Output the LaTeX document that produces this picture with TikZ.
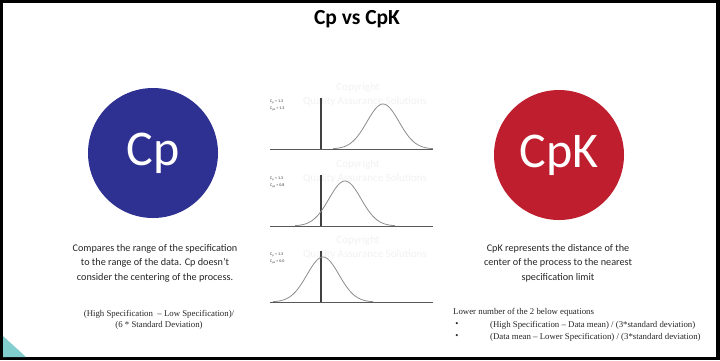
\documentclass[tikz,border=0pt]{standalone}
\usepackage{fontspec}
\setmainfont{Carlito}
\newfontfamily\frmfont{Liberation Serif}
\usetikzlibrary{positioning}
\definecolor{cpblue}{RGB}{46,49,146}
\definecolor{cpkred}{RGB}{190,30,45}
\definecolor{crnr}{RGB}{130,205,205}
\tikzset{
  circ/.style  = {circle, minimum size=130pt, inner sep=0pt, text=white,
                  font=\fontsize{50}{50}\selectfont},
  desc/.style  = {align=center, font=\fontsize{10.2}{14.5}\selectfont, text=black!85},
  frm/.style   = {align=left, font=\frmfont\fontsize{8.8}{11.5}\selectfont,
                  text=black!85, inner sep=0pt},
  axisl/.style = {draw=black!65, line width=0.9pt},
  specl/.style = {draw=black!75, line width=1.1pt},
  bell/.style  = {draw=black!45, line width=0.8pt, smooth},
  tiny/.style  = {font=\fontsize{4}{4}\selectfont, anchor=west, inner sep=0pt, text=black!80},
  wmk/.style   = {text=black!5, font=\fontsize{11}{11}\selectfont},
}

\begin{document}
\begin{tikzpicture}[x=1pt, y=-1pt]
\useasboundingbox (0,0) rectangle (720,360);
\fill[black] (0,0) rectangle (720,360);
\fill[white] (3,3) rectangle (716,357);
\fill[crnr] (3,336) -- (3,357) -- (26,357) -- cycle;

\node[font=\bfseries\fontsize{21.5}{21.5}\selectfont] (title) at (357,19) {Cp vs CpK};

\node[circ, fill=cpblue] (cp) at (153,153) {Cp};
\node[circ, fill=cpkred] (cpk) at (559,155) {CpK};

% spec limit panels
\foreach \ay/\xa/\mx/\xb/\kv/\nm in {149/333/383/433/1.3/top, 226/295/345/395/0.8/mid, 302/273/323/373/0.0/bot}{
  \node[wmk] (wa-\nm) at (358,\ay-61) {Copyright};
  \node[wmk] (wb-\nm) at (365,\ay-47) {Quality Assurance Solutions};
  \draw[axisl] (270,\ay) -- (433,\ay);
  \draw[specl] (321,\ay-51) -- (321,\ay);
  \draw[bell] plot[domain=\xa:\xb, samples=61] (\x, {\ay-45*exp(-(\x-\mx)*(\x-\mx)/512)});
  \node[tiny] (la-\nm) at (270,\ay-47) {C\textsubscript{p} = 1.3};
  \node[tiny] (lb-\nm) at (270,\ay-40) {C\textsubscript{pk} = \kv};
}

\node[desc] (cpdesc) at (155,263)
     {Compares the range of the specification\\
      to the range of the data. Cp doesn't\\
      consider the centering of the process.};
\node[frm, align=center] (cpfrm) at (159,320)
     {(High Specification \ \textendash{} Low Specification)/\\
      (6 * Standard Deviation)};

\node[desc] (cpkdesc) at (558,263)
     {CpK represents the distance of the\\
      center of the process to the nearest\\
      specification limit};
\node[frm, anchor=west] (cpkhead) at (453,312) {Lower number of the 2 below equations};
\node[frm] (b1) at (457,325) {\textbullet};
\node[frm] (b2) at (457,337) {\textbullet};
\node[frm, anchor=west] (eq1) at (490,325)
     {(High Specification \textendash{} Data mean) / (3*standard deviation)};
\node[frm, anchor=west] (eq2) at (490,337)
     {(Data mean \textendash{} Lower Specification) / (3*standard deviation)};
\end{tikzpicture}
\end{document}
